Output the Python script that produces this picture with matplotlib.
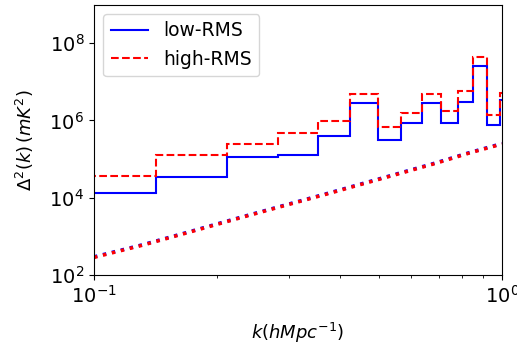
import numpy as np
import matplotlib
matplotlib.use('Agg')
import matplotlib.pyplot as plt
from matplotlib.ticker import NullLocator, NullFormatter

# k bin edges (h/Mpc), bin width ~0.0708
k_edges = [0.0708, 0.1416, 0.2124, 0.2832, 0.3540, 0.4248, 0.4956, 0.5664,
           0.6372, 0.7080, 0.7788, 0.8496, 0.9204, 0.9912, 1.0620]

# binned power spectra (mK^2)
ps_low = [1.35e4, 3.46e4, 1.14e5, 1.31e5, 4.06e5, 2.77e6, 3.14e5,
          8.8e5, 2.8e6, 8.5e5, 3.03e6, 2.64e7, 7.7e5, 3.4e6]
ps_high = [3.67e4, 1.26e5, 2.48e5, 4.77e5, 9.9e5, 4.74e6, 6.8e5,
           1.6e6, 4.69e6, 1.8e6, 5.95e6, 4.26e7, 1.42e6, 5.2e6]

# thermal noise curves
k_noise = [0.100, 0.1314, 0.1687, 0.228, 0.308, 0.376, 0.459, 0.561,
           0.685, 0.835, 0.970, 1.00]
noise_low = [295, 605, 1260, 3090, 7400, 1.32e4, 2.39e4, 4.34e4,
             7.87e4, 1.49e5, 2.31e5, 2.52e5]
noise_high = [285, 588, 1224, 3000, 7200, 1.28e4, 2.32e4, 4.21e4,
              7.64e4, 1.45e5, 2.24e5, 2.45e5]

fig = plt.figure(figsize=(5.17, 3.47), dpi=100)
ax = fig.add_axes([0.1818, 0.2075, 0.971 - 0.1818, 0.987 - 0.2075])

ax.stairs(ps_low, k_edges, color='b', lw=1.5, label='low-RMS', baseline=None)
ax.stairs(ps_high, k_edges, color='r', lw=1.5, ls='--', label='high-RMS', baseline=None)
ax.plot(k_noise, noise_low, color='b', lw=2.5, ls=':')
ax.plot(k_noise, noise_high, color='r', lw=2.5, ls=':')

ax.set_xscale('log')
ax.set_yscale('log')
ax.set_xlim(0.1, 1.0)
ax.set_ylim(1e2, 1e9)
ax.set_yticks([1e2, 1e4, 1e6, 1e8])
ax.yaxis.set_minor_locator(NullLocator())
ax.xaxis.set_minor_formatter(NullFormatter())
ax.tick_params(labelsize=14)

ax.set_xlabel(r'$k (h Mpc^{-1})$', fontsize=13, labelpad=10)
ax.set_ylabel(r'$\Delta^2(k)\,(mK^2)$', fontsize=13, labelpad=10)

ax.legend(loc='upper left', fontsize=13.5)

plt.savefig('out.png', dpi=100)
plt.close()
